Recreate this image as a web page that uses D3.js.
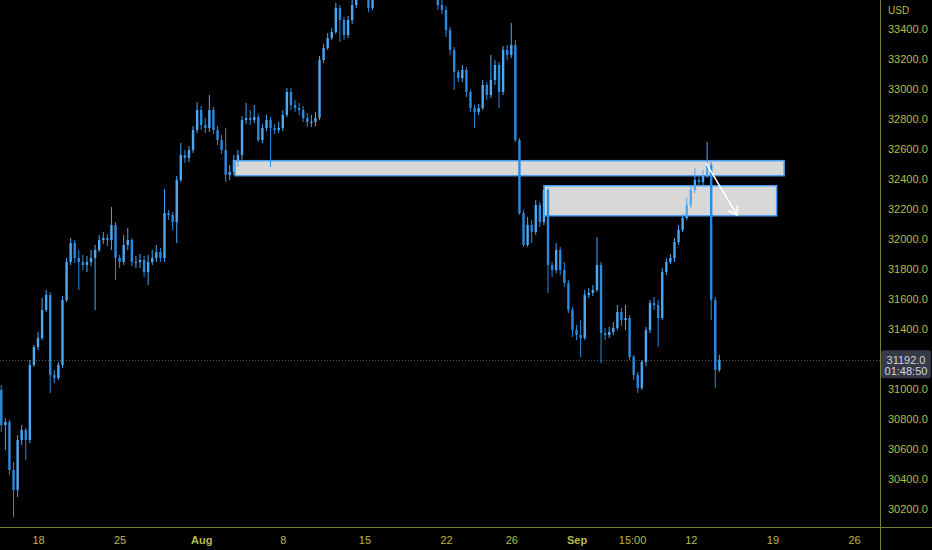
<!DOCTYPE html>
<html>
<head>
<meta charset="utf-8">
<script src="https://cdn.jsdelivr.net/npm/d3@7"></script>
<style>
  html, body { margin: 0; padding: 0; background: #000; }
  svg { display: block; }
</style>
</head>
<body>
<svg id="chart" width="932" height="550"></svg>
<script>
// ---------------- DATA ----------------
// Candles: 4 per trading day, first candle at trading-day -2.25 (day 0 = Jul 18)
const firstCandleDay = -2.25;
const candlesPerDay = 4;
const firstOpen = 30995;
const closes = [
30760,30780,30460,30327,30660,30727,30660,31160,31280,31340,
31527,31627,31093,31073,31160,31593,31847,31973,31873,31847,
31827,31847,31873,31927,31993,32007,31993,32093,31873,31847,
31960,31993,31847,31847,31860,31780,31847,31873,31913,31873,
32173,32160,32113,32393,32560,32540,32593,32727,32860,32760,
32740,32860,32727,32660,32593,32427,32447,32527,32560,32793,
32807,32793,32813,32660,32740,32793,32740,32727,32740,32827,
32980,32893,32873,32860,32807,32780,32780,32807,33193,33273,
33340,33380,33540,33460,33360,33460,33560,33793,33927,33727,
33540,33727,33927,34060,34193,34260,34227,34127,34093,33993,
33927,33860,33827,33760,33793,33693,33660,33560,33527,33393,
33260,33113,33073,33127,32980,32873,32847,32873,33027,32960,
33060,33160,32980,33260,33227,33293,32660,32173,31960,32093,
32047,32227,32113,32327,31827,31793,31927,31793,31707,31527,
31393,31360,31340,31627,31640,31660,31827,31373,31360,31380,
31407,31513,31460,31473,31213,31093,31007,31180,31393,31573,
31560,31473,31780,31847,31873,31980,32060,32140,32227,32327,
32393,32380,32420,32493,31593,31127,31192];
const highs = [
31025,30805,30793,30513,30693,30760,30740,31193,31293,31380,
31607,31660,31647,31127,31180,31620,31873,32007,31993,31927,
31893,31887,31927,31960,32027,32047,32033,32213,32113,31893,
32027,32073,32007,31887,31900,31887,31893,31927,31960,31940,
32333,32193,32180,32420,32640,32593,32620,32753,32913,32887,
32807,32960,32880,32753,32693,32740,32493,32560,32593,32820,
32907,32860,32893,32833,32767,32827,32813,32767,32780,32860,
33007,33007,32927,32907,32887,32840,32827,32847,33220,33300,
33373,33407,33573,33560,33480,33487,33660,33827,33980,33940,
33753,33760,33960,34093,34233,34300,34287,34247,34160,34127,
34027,33960,33893,33860,33827,33827,33727,33693,33593,33553,
33413,33280,33127,33160,33147,32993,32893,32900,33060,33047,
33227,33193,33180,33287,33293,33440,33327,32673,32193,32147,
32127,32260,32247,32360,32340,31847,31973,31947,31847,31727,
31547,31427,31460,31660,31673,31693,32013,31847,31407,31413,
31447,31560,31540,31560,31493,31227,31113,31193,31413,31593,
31613,31593,31807,31873,31900,32007,32093,32167,32280,32353,
32473,32420,32460,32647,32513,31613,31227];
const lows = [
30713,30593,30427,30147,30280,30627,30527,30640,31147,31260,
31327,31513,30973,31040,31060,31140,31580,31827,31840,31660,
31793,31780,31820,31527,31913,31967,31953,31927,31727,31807,
31827,31927,31820,31807,31807,31747,31693,31827,31847,31847,
31847,32127,32060,31973,32380,32507,32513,32573,32707,32727,
32707,32713,32700,32627,32567,32380,32393,32427,32480,32527,
32767,32760,32773,32647,32640,32720,32480,32700,32707,32720,
32813,32860,32847,32827,32780,32747,32747,32753,32793,33173,
33260,33327,33367,33313,33327,33340,33433,33540,33760,33693,
33513,33527,33693,33893,34027,34160,34193,34093,34060,33960,
33893,33827,33793,33727,33727,33660,33627,33527,33500,33347,
33227,32993,33047,33047,32947,32847,32740,32827,32860,32927,
32940,33027,32873,32960,33193,33207,32647,32160,31947,31947,
31973,32027,32080,32093,31640,31747,31773,31760,31680,31507,
31347,31327,31213,31327,31607,31620,31647,31173,31327,31340,
31360,31393,31420,31393,31193,31060,30973,30993,31153,31373,
31527,31280,31460,31760,31833,31847,31960,32047,32127,32207,
32307,32353,32353,32407,31460,31007,31113];

// Axis ticks
const priceTicks = [30200,30400,30600,30800,31000,31200,31400,31600,31800,32000,32200,32400,32600,32800,33000,33200,33400];
const priceTicksShown = priceTicks.filter(v => v !== 31200);
const timeTickDays = [0, 5, 10, 15, 20, 25, 29, 33, 36.4, 40, 45, 50];
const timeTickLabels = ["18", "25", "Aug", "8", "15", "22", "26", "Sep", "15:00", "12", "19", "26"];
const boldLabels = ["Aug", "Sep"];

// Zones (trading-day / price)
const zoneDays = [[12.07, 45.72], [31.02, 45.26]];
const zonePrices = [[32522, 32422], [32355, 32155]];
// Arrow (trading-day / price)
const arrowDays = [40.93, 42.83];
const arrowPrices = [32507, 32160];

const lastPrice = 31192;
const countdown = "01:48:50";
const currency = "USD";

// ---------------- CHART ----------------
const W = 932, H = 550;
const plotRight = 880, plotBottom = 527;
const svg = d3.select("#chart");
svg.append("rect").attr("width", W).attr("height", H).attr("fill", "#000");

const x = d3.scaleLinear().domain([0, 50]).range([38, 854]);
const y = d3.scaleLinear().domain([30200, 33400]).range([509, 29]);

const defs = svg.append("defs");
defs.append("clipPath").attr("id", "plotClip")
  .append("rect").attr("x", 0).attr("y", 0).attr("width", plotRight).attr("height", plotBottom);

const plot = svg.append("g").attr("clip-path", "url(#plotClip)");

// last price dotted line
plot.append("line")
  .attr("x1", 0).attr("x2", plotRight)
  .attr("y1", Math.round(y(lastPrice)) + 0.5).attr("y2", Math.round(y(lastPrice)) + 0.5)
  .attr("stroke", "#5a5a48").attr("stroke-width", 1).attr("stroke-dasharray", "1,2");

// zones
zoneDays.forEach((d, k) => {
  const p = zonePrices[k];
  plot.append("rect")
    .attr("x", x(d[0])).attr("y", y(p[0]))
    .attr("width", x(d[1]) - x(d[0])).attr("height", y(p[1]) - y(p[0]))
    .attr("fill", "#d8d8d8").attr("stroke", "#4a9ff0").attr("stroke-width", 1.5);
});

// candles
const candles = closes.map((c, i) => ({
  t: firstCandleDay + i / candlesPerDay,
  o: i === 0 ? firstOpen : closes[i - 1],
  h: highs[i], l: lows[i], c: c
}));
const bodyW = 2.4;
const cg = plot.append("g");
cg.selectAll("line.wick").data(candles).join("line")
  .attr("class", "wick")
  .attr("x1", d => x(d.t)).attr("x2", d => x(d.t))
  .attr("y1", d => y(d.h)).attr("y2", d => y(d.l))
  .attr("stroke", d => d.c >= d.o ? "#4aa8f5" : "#2a8ae0")
  .attr("stroke-width", 1);
cg.selectAll("rect.body").data(candles).join("rect")
  .attr("class", "body")
  .attr("x", d => x(d.t) - bodyW / 2)
  .attr("width", bodyW)
  .attr("y", d => y(Math.max(d.o, d.c)))
  .attr("height", d => Math.max(1, Math.abs(y(d.o) - y(d.c))))
  .attr("fill", d => d.c >= d.o ? "#4aa8f5" : "#2a8ae0");

// arrow
const ax0 = x(arrowDays[0]), ay0 = y(arrowPrices[0]);
const ax1 = x(arrowDays[1]), ay1 = y(arrowPrices[1]);
plot.append("line").attr("x1", ax0).attr("y1", ay0).attr("x2", ax1).attr("y2", ay1)
  .attr("stroke", "#ffffff").attr("stroke-width", 1.5);
const ang = Math.atan2(ay1 - ay0, ax1 - ax0);
const hl = 10, ha = Math.PI / 5.5;
const headPath = d3.path();
headPath.moveTo(ax1 - hl * Math.cos(ang - ha), ay1 - hl * Math.sin(ang - ha));
headPath.lineTo(ax1, ay1);
headPath.lineTo(ax1 - hl * Math.cos(ang + ha), ay1 - hl * Math.sin(ang + ha));
plot.append("path").attr("d", headPath.toString())
  .attr("fill", "none").attr("stroke", "#ffffff").attr("stroke-width", 1.5);

// axis lines
const axisCol = "#7c7d3a";
svg.append("line").attr("x1", plotRight + 0.5).attr("x2", plotRight + 0.5).attr("y1", 0).attr("y2", H)
  .attr("stroke", axisCol).attr("stroke-width", 1);
svg.append("line").attr("x1", 0).attr("x2", W).attr("y1", plotBottom + 0.5).attr("y2", plotBottom + 0.5)
  .attr("stroke", axisCol).attr("stroke-width", 1);

const textCol = "#b9ba4c";
const font = "'Liberation Sans', Arial, sans-serif";

// y axis
const yAxis = d3.axisRight(y).tickValues(priceTicksShown).tickSize(0).tickPadding(8)
  .tickFormat(d3.format(".1f"));
const yg = svg.append("g").attr("transform", `translate(${plotRight},0)`).call(yAxis);
yg.select(".domain").remove();
yg.selectAll("text").attr("fill", textCol).attr("font-family", font).attr("font-size", 11);

svg.append("text").attr("x", plotRight + 8).attr("y", 14).text(currency)
  .attr("fill", textCol).attr("font-family", font).attr("font-size", 10);

// x axis
const xAxis = d3.axisBottom(x).tickValues(timeTickDays).tickSize(0).tickPadding(9)
  .tickFormat((d, i) => timeTickLabels[i]);
const xg = svg.append("g").attr("transform", `translate(0,${plotBottom})`).call(xAxis);
xg.select(".domain").remove();
xg.selectAll("text").attr("fill", textCol).attr("font-family", font).attr("font-size", 11)
  .attr("font-weight", (d, i) => boldLabels.includes(timeTickLabels[i]) ? "bold" : "normal");

// last price label
const ly = y(lastPrice);
svg.append("rect").attr("x", plotRight + 1).attr("y", ly - 10).attr("width", 50).attr("height", 28)
  .attr("rx", 2).attr("fill", "#363a45");
svg.append("text").attr("x", plotRight + 26).attr("y", ly + 4).attr("text-anchor", "middle")
  .text(d3.format(".1f")(lastPrice))
  .attr("fill", "#d1d4dc").attr("font-family", font).attr("font-size", 11);
svg.append("text").attr("x", plotRight + 26).attr("y", ly + 15).attr("text-anchor", "middle")
  .text(countdown)
  .attr("fill", "#d1d4dc").attr("font-family", font).attr("font-size", 11);
</script>
</body>
</html>
